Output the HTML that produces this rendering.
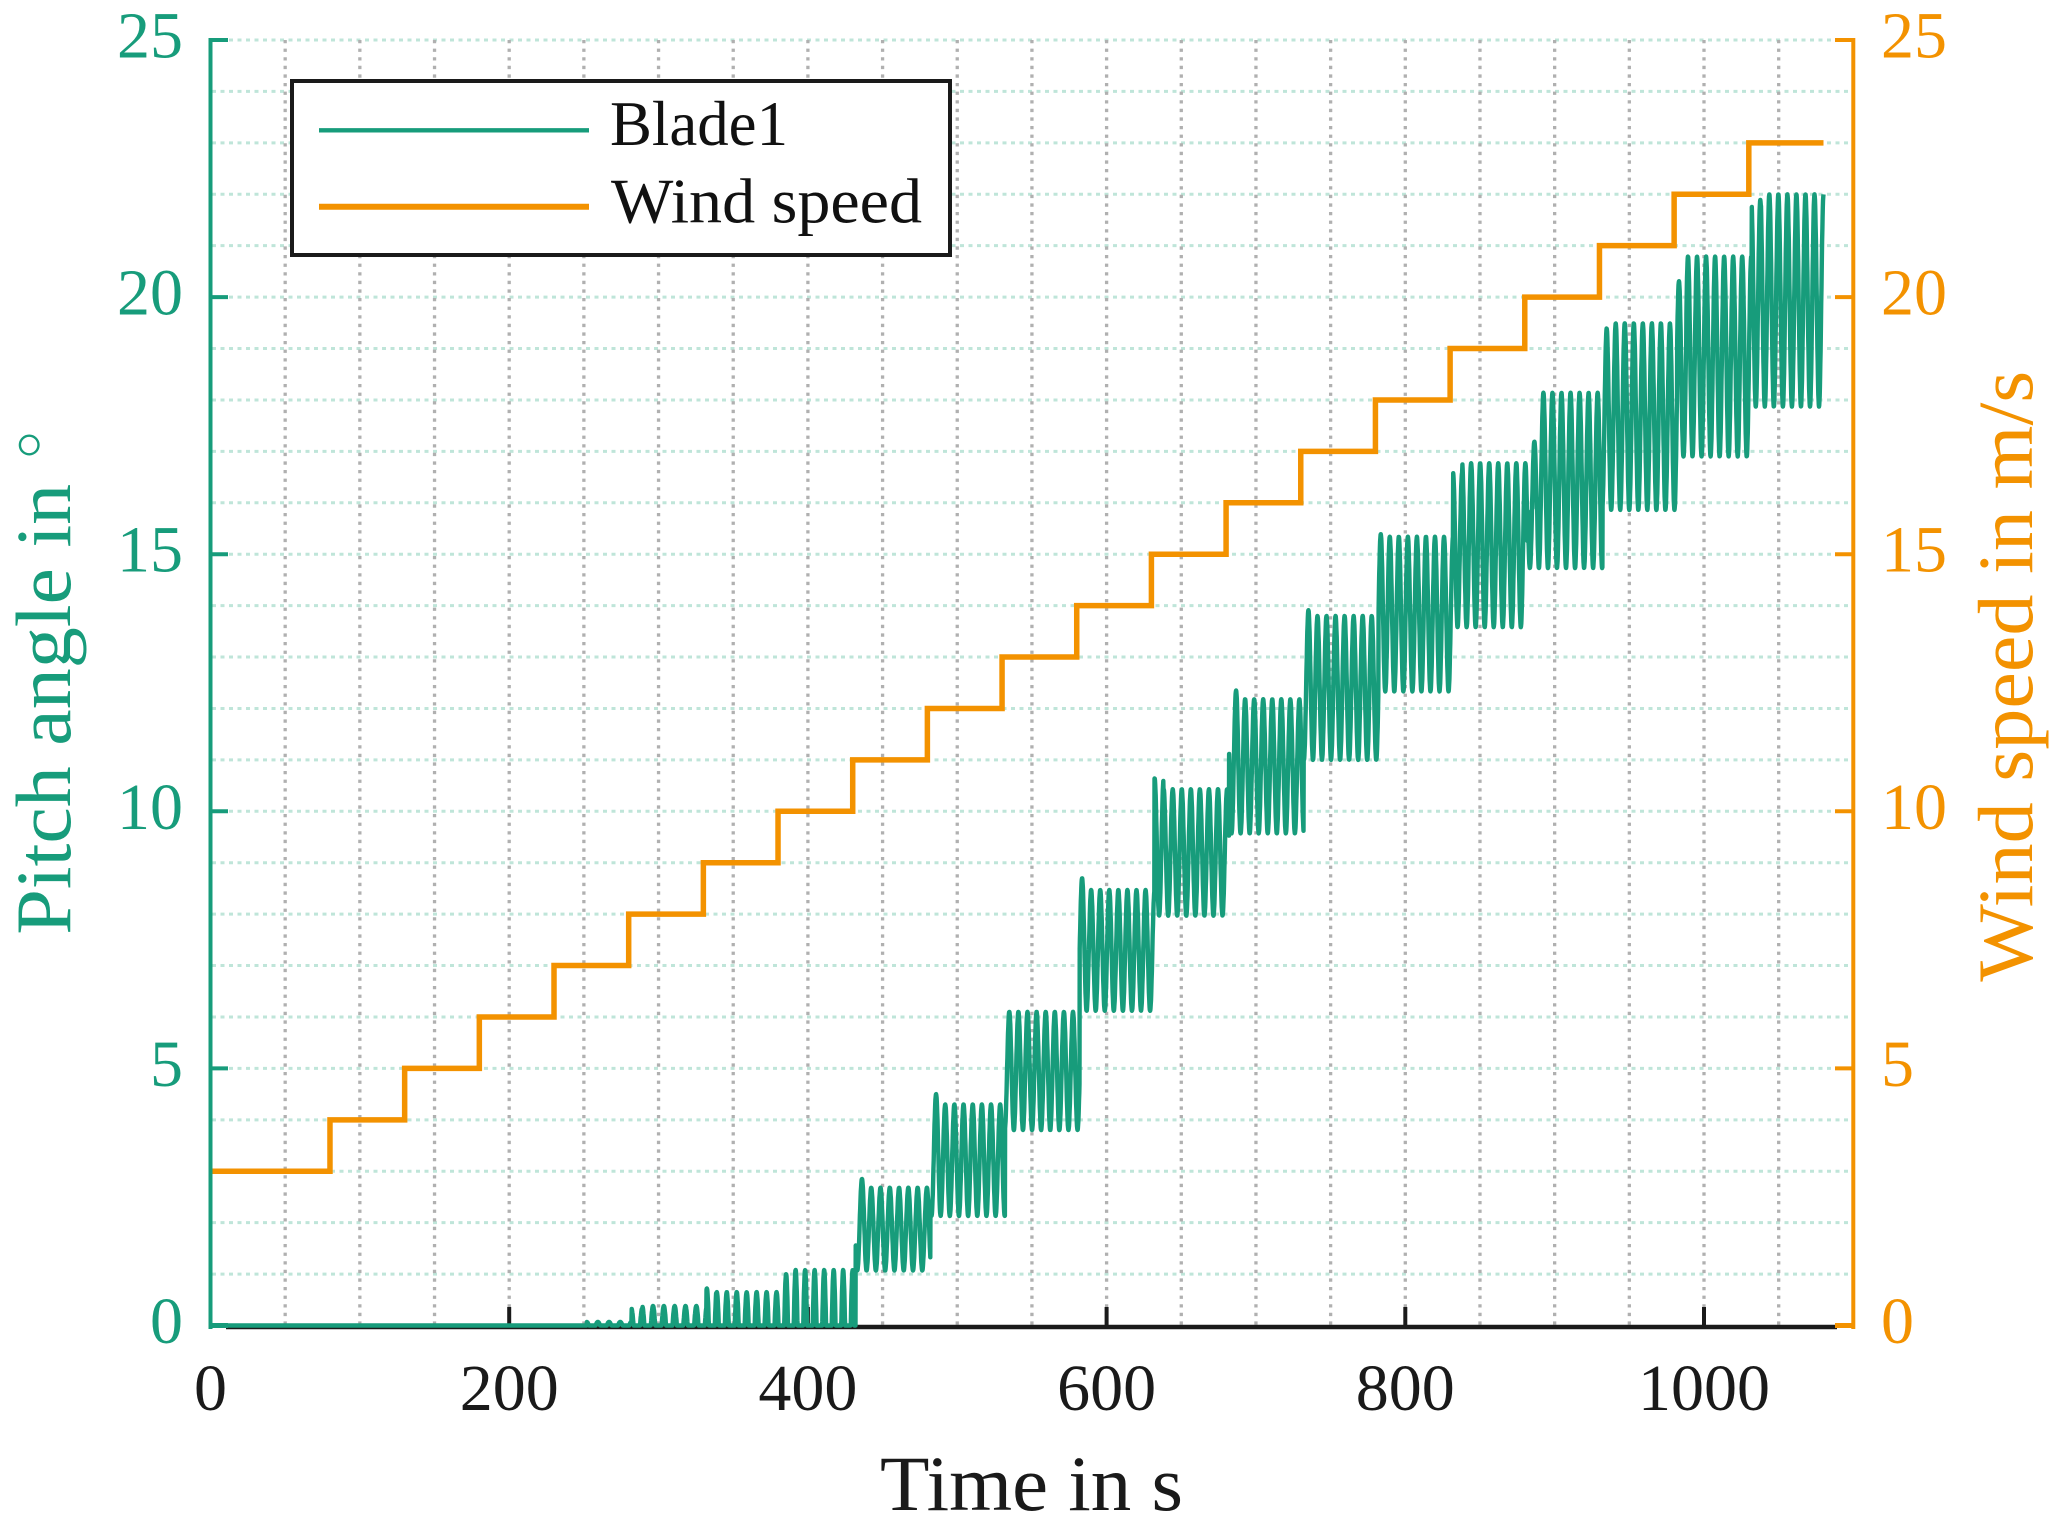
<!DOCTYPE html>
<html><head><meta charset="utf-8">
<style>
html,body{margin:0;padding:0;background:#fff;}
svg{display:block}
text{font-family:"Liberation Serif","DejaVu Serif",serif;}
</style></head><body>
<svg id="s" width="2067" height="1515" viewBox="0 0 2067 1515" xmlns="http://www.w3.org/2000/svg">
<rect width="2067" height="1515" fill="#fff"/>
<g stroke="#bfe5d9" stroke-width="3" stroke-dasharray="4 4.5" fill="none">
<path d="M212,1274.08H1852M212,1222.66H1852M212,1171.24H1852M212,1119.82H1852M212,1068.4H1852M212,1016.98H1852M212,965.56H1852M212,914.14H1852M212,862.72H1852M212,811.3H1852M212,759.88H1852M212,708.46H1852M212,657.04H1852M212,605.62H1852M212,554.2H1852M212,502.78H1852M212,451.36H1852M212,399.94H1852M212,348.52H1852M212,297.1H1852M212,245.68H1852M212,194.26H1852M212,142.84H1852M212,91.42H1852M212,40H1852"/>
</g>
<g stroke="#b0b0b0" stroke-width="3.3" stroke-dasharray="3.3 5.3" fill="none">
<path d="M285.18,40V1325M359.85,40V1325M434.53,40V1325M509.2,40V1325M583.88,40V1325M658.55,40V1325M733.23,40V1325M807.9,40V1325M882.58,40V1325M957.25,40V1325M1031.93,40V1325M1106.6,40V1325M1181.28,40V1325M1255.95,40V1325M1330.63,40V1325M1405.3,40V1325M1479.98,40V1325M1554.65,40V1325M1629.33,40V1325M1704,40V1325M1778.68,40V1325"/>
</g>
<line x1="226" y1="1327" x2="1837" y2="1327" stroke="#1a1a1a" stroke-width="4.5"/>
<g stroke="#1a1a1a" stroke-width="4">
<line x1="509.2" y1="1307" x2="509.2" y2="1326"/>
<line x1="807.9" y1="1307" x2="807.9" y2="1326"/>
<line x1="1106.6" y1="1307" x2="1106.6" y2="1326"/>
<line x1="1405.3" y1="1307" x2="1405.3" y2="1326"/>
<line x1="1704" y1="1307" x2="1704" y2="1326"/>
</g>
<path id="g" fill="none" stroke="#179c7b" stroke-width="4.4" stroke-linejoin="round" d=""/>
<path fill="none" stroke="#f39200" stroke-width="5.5" stroke-linejoin="miter" d="M210.5,1171.24H329.98V1119.82H404.66V1068.4H479.33V1016.98H554.01V965.56H628.68V914.14H703.36V862.72H778.03V811.3H852.71V759.88H927.38V708.46H1002.06V657.04H1076.73V605.62H1151.41V554.2H1226.08V502.78H1300.76V451.36H1375.43V399.94H1450.11V348.52H1524.78V297.1H1599.46V245.68H1674.13V194.26H1748.81V142.84H1823.5"/>
<g stroke="#179c7b" stroke-width="4">
<line x1="210.5" y1="38" x2="210.5" y2="1329"/>
<line x1="209" y1="1325.5" x2="228" y2="1325.5" stroke-width="5"/>
<line x1="209" y1="1068.4" x2="228" y2="1068.4"/>
<line x1="209" y1="811.3" x2="228" y2="811.3"/>
<line x1="209" y1="554.2" x2="228" y2="554.2"/>
<line x1="209" y1="297.1" x2="228" y2="297.1"/>
<line x1="209" y1="40" x2="228" y2="40"/>
</g>
<g stroke="#f39200" stroke-width="4">
<line x1="1853.3" y1="38" x2="1853.3" y2="1329"/>
<line x1="1835" y1="1325.5" x2="1855" y2="1325.5" stroke-width="5"/>
<line x1="1835" y1="1068.4" x2="1855" y2="1068.4"/>
<line x1="1835" y1="811.3" x2="1855" y2="811.3"/>
<line x1="1835" y1="554.2" x2="1855" y2="554.2"/>
<line x1="1835" y1="297.1" x2="1855" y2="297.1"/>
<line x1="1835" y1="40" x2="1855" y2="40"/>
</g>
<g fill="#179c7b" font-size="66" text-anchor="end">
<text x="183" y="1343">0</text>
<text x="183" y="1085.9">5</text>
<text x="183" y="828.8">10</text>
<text x="183" y="571.7">15</text>
<text x="183" y="314.6">20</text>
<text x="183" y="57.5">25</text>
</g>
<g fill="#f39200" font-size="66" text-anchor="start">
<text x="1881" y="1343">0</text>
<text x="1881" y="1085.9">5</text>
<text x="1881" y="828.8">10</text>
<text x="1881" y="571.7">15</text>
<text x="1881" y="314.6">20</text>
<text x="1881" y="57.5">25</text>
</g>
<g fill="#1a1a1a" font-size="66" text-anchor="middle">
<text x="210.5" y="1410">0</text>
<text x="509.2" y="1410">200</text>
<text x="807.9" y="1410">400</text>
<text x="1106.6" y="1410">600</text>
<text x="1405.3" y="1410">800</text>
<text x="1704" y="1410">1000</text>
</g>
<text x="1031.5" y="1510" font-size="78" fill="#1a1a1a" text-anchor="middle" textLength="303" lengthAdjust="spacingAndGlyphs">Time in s</text>
<text transform="translate(70,709.3) rotate(-90)" font-size="78" fill="#179c7b" text-anchor="middle" textLength="451" lengthAdjust="spacingAndGlyphs">Pitch angle in</text>
<circle cx="29.2" cy="445" r="9.3" fill="none" stroke="#179c7b" stroke-width="2.4"/>
<text transform="translate(2032,676.2) rotate(-90)" font-size="78" fill="#f39200" text-anchor="middle" textLength="611" lengthAdjust="spacingAndGlyphs">Wind speed in m/s</text>
<rect x="292" y="81" width="658" height="174" fill="#fff" stroke="#1a1a1a" stroke-width="4"/>
<line x1="319" y1="130.3" x2="589" y2="130.3" stroke="#179c7b" stroke-width="4.3"/>
<line x1="319" y1="206.7" x2="589" y2="206.7" stroke="#f39200" stroke-width="6"/>
<text x="610" y="145" font-size="64" fill="#111" textLength="178" lengthAdjust="spacingAndGlyphs">Blade1</text>
<text x="611" y="222.7" font-size="64" fill="#111" textLength="311" lengthAdjust="spacingAndGlyphs">Wind speed</text>
</svg>
<script>
(function(){
var X0=210.5,XS=1.4935,Y0=1325.5,YS=51.42;
var S=[
[0,0,0,0],[250,0,0.07,0.07],[280,0,0.38,0.33],[330,0,0.65,0.72],[380,0,1.08,1.0],
[430,1.07,2.68,2.85],[480,2.13,4.3,4.5],[530,3.8,6.1,6.1],[580,6.12,8.47,8.7],
[630,7.97,10.43,10.64],[680,9.57,12.18,12.35],[730,11.0,13.8,13.91],[780,12.33,15.34,15.39],
[830,13.58,16.77,16.58],[880,14.73,18.14,17.19],[930,15.86,19.49,19.39],[980,16.9,20.79,20.31],
[1030,17.87,22.0,21.89]];
function wind(t){if(t<80)return 3;return Math.min(23,4+Math.floor((t-80)/50));}
function per(w){if(w<8)return 7.5;return 6.05+1.2*Math.exp(-(w-8)/1.5);}
var dt=0.15,N=Math.round(1080/dt),phi=[0],i;
for(i=1;i<=N;i++){var t=i*dt;phi.push(phi[i-1]+dt/per(wind(t-dt/2)));}
var i289=Math.round(289/dt),off=-(phi[i289]-Math.floor(phi[i289]));
var swPhi=[];
for(var k=0;k<S.length;k++){var ts=S[k][0]+2;swPhi.push(phi[Math.min(N,Math.round(ts/dt))]);}
var d=[];
for(i=0;i<=N;i++){
 var t=i*dt,v=0;
 if(t>=252){
  var k=0;for(var j=0;j<S.length;j++){if(t>=S[j][0]+2)k=j;}
  var L=S[k][1],H=S[k][2],F=S[k][3];
  if(phi[i]-swPhi[k]<1)H=F;
  var c=Math.cos(2*Math.PI*(phi[i]+off));
  if(L<=0){v=H*Math.max(0,(c-0.3)/0.7);}
  else{v=L+(H-L)*(0.5+0.5*c);}
 }
 d.push((i?'L':'M')+(X0+t*XS).toFixed(1)+','+(Y0-v*YS).toFixed(1));
}
document.getElementById('g').setAttribute('d',d.join(''));
})();
</script>
</body></html>
